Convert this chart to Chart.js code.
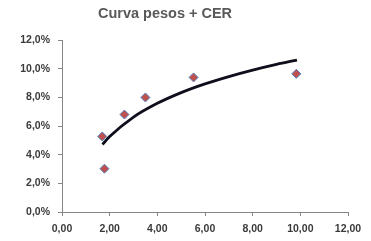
<!DOCTYPE html>
<html>
<head>
<meta charset="utf-8">
<script src="https://cdn.jsdelivr.net/npm/chart.js@4/dist/chart.umd.min.js"></script>
<style>
html,body{margin:0;padding:0;background:#fff;}
#wrap{width:371px;height:241px;position:relative;}
</style>
</head>
<body>
<div id="wrap"><canvas id="c" width="371" height="241"></canvas></div>
<script>
const titleText = "Curva pesos + CER";
// observed points: duration (years) vs yield (%)
const durations = [1.69, 1.78, 2.62, 3.50, 5.52, 9.83];
const yields = [5.27, 3.02, 6.80, 7.99, 9.39, 9.64];
// trend line
const trendX = [1.70, 2.00, 3.00, 4.00, 5.00, 6.00, 7.00, 8.00, 9.00, 9.86];
const trendY = [4.71, 5.26, 6.62, 7.58, 8.33, 8.94, 9.45, 9.90, 10.30, 10.60];
const xTicks = [0, 2, 4, 6, 8, 10, 12];
const yTicks = [0, 2, 4, 6, 8, 10, 12];

const fmt = v => v.toFixed(2).replace('.', ',');
const fmtPct = v => v.toFixed(1).replace('.', ',') + '%';

const titlePlugin = {
  id: 'offsetTitle',
  afterDraw(chart) {
    const ctx = chart.ctx;
    ctx.save();
    ctx.font = 'bold 14.5px "Liberation Sans", Arial, sans-serif';
    ctx.fillStyle = '#595959';
    ctx.textAlign = 'center';
    ctx.textBaseline = 'middle';
    ctx.fillText(titleText, 165, 14);
    ctx.restore();
  }
};

new Chart(document.getElementById('c'), {
  type: 'scatter',
  data: {
    datasets: [
      {
        label: 'Tendencia',
        type: 'line',
        data: trendX.map((x, i) => ({x: x, y: trendY[i]})),
        borderColor: '#0e0e1c',
        borderWidth: 2.8,
        pointRadius: 0,
        fill: false,
        cubicInterpolationMode: 'monotone',
        order: 2
      },
      {
        label: 'Bonos',
        data: durations.map((x, i) => ({x: x, y: yields[i]})),
        pointStyle: 'rectRot',
        pointRadius: 4.5,
        backgroundColor: '#C0504D',
        borderColor: '#4F81BD',
        borderWidth: 1,
        order: 1
      }
    ]
  },
  plugins: [titlePlugin],
  options: {
    responsive: false,
    animation: false,
    layout: {padding: {left: 0, right: 23, top: 40, bottom: 0}},
    plugins: {
      legend: {display: false},
      tooltip: {enabled: false},
      title: {display: false}
    },
    scales: {
      x: {
        type: 'linear',
        min: 0, max: 12,
        afterBuildTicks: s => { s.ticks = xTicks.map(v => ({value: v})); },
        afterFit: s => { s.height = 29; },
        ticks: {
          callback: v => fmt(v),
          color: '#3a3a3a',
          font: {family: 'Liberation Sans, Arial, sans-serif', size: 10.5, weight: 'bold'},
          padding: 7,
          maxRotation: 0
        },
        grid: {display: true, drawOnChartArea: false, drawTicks: true, tickLength: 4, color: '#868686'},
        border: {display: true, color: '#868686', width: 1}
      },
      y: {
        type: 'linear',
        min: 0, max: 12,
        afterBuildTicks: s => { s.ticks = yTicks.map(v => ({value: v})); },
        afterFit: s => { s.width = 62; },
        ticks: {
          callback: v => fmtPct(v),
          color: '#3a3a3a',
          font: {family: 'Liberation Sans, Arial, sans-serif', size: 10.5, weight: 'bold'},
          padding: 8
        },
        grid: {display: true, drawOnChartArea: false, drawTicks: true, tickLength: 4, color: '#868686'},
        border: {display: true, color: '#868686', width: 1}
      }
    }
  }
});
</script>
</body>
</html>
